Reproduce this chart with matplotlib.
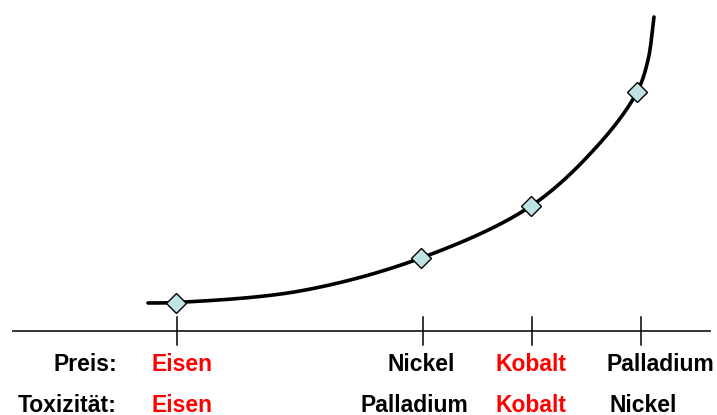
import numpy as np
import matplotlib
matplotlib.use("Agg")
import matplotlib.pyplot as plt

# ---- data ----
price_labels = ["Eisen", "Nickel", "Kobalt", "Palladium"]
tox_labels = ["Eisen", "Palladium", "Kobalt", "Nickel"]
highlight = ["Eisen", "Kobalt"]
tick_x = [177, 423, 532, 641]
marker_x = [176, 421, 531, 637]
marker_y = [28.5, 73, 125, 239]
curve_x = [148, 176, 300, 421, 531, 600, 637, 648, 654]
curve_y = [28, 28.5, 40, 73, 125, 188, 239, 271, 314]


def catmull_rom(xs, ys, n=40, alpha=0.5):
    """Smooth drawing path through the given points (centripetal Catmull-Rom)."""
    P = np.column_stack([xs, ys]).astype(float)
    P = np.vstack([2 * P[0] - P[1], P, 2 * P[-1] - P[-2]])
    out = []
    for i in range(1, len(P) - 2):
        p0, p1, p2, p3 = P[i - 1], P[i], P[i + 1], P[i + 2]
        t0 = 0.0
        t1 = t0 + np.linalg.norm(p1 - p0) ** alpha
        t2 = t1 + np.linalg.norm(p2 - p1) ** alpha
        t3 = t2 + np.linalg.norm(p3 - p2) ** alpha
        t = np.linspace(t1, t2, n)[:, None]
        A1 = (t1 - t) / (t1 - t0) * p0 + (t - t0) / (t1 - t0) * p1
        A2 = (t2 - t) / (t2 - t1) * p1 + (t - t1) / (t2 - t1) * p2
        A3 = (t3 - t) / (t3 - t2) * p2 + (t - t2) / (t3 - t2) * p3
        B1 = (t2 - t) / (t2 - t0) * A1 + (t - t0) / (t2 - t0) * A2
        B2 = (t3 - t) / (t3 - t1) * A2 + (t - t1) / (t3 - t1) * A3
        C = (t2 - t) / (t2 - t1) * B1 + (t - t1) / (t2 - t1) * B2
        out.append(C if i == 1 else C[1:])
    C = np.vstack(out)
    return C[:, 0], C[:, 1]


# ---- layout ----
W, H = 717, 415
axis_y = 331
fig = plt.figure(figsize=(W / 100, H / 100), dpi=100)
ax = fig.add_axes([0, 0, 1, 1])
ax.set_xlim(0, W)
ax.set_ylim(axis_y - H, axis_y)
ax.axis("off")

# baseline + ticks
ax.plot([12, 711], [0, 0], color="black", lw=1.1, solid_capstyle="butt")
for tx in tick_x:
    ax.plot([tx, tx], [14, -14], color="black", lw=1.1)

# curve
sx, sy = catmull_rom(curve_x, curve_y)
ax.plot(sx, sy, color="black", lw=2.6, solid_capstyle="round",
        solid_joinstyle="round", zorder=3)
ax.plot(marker_x, marker_y, linestyle="none", marker="D", markersize=10,
        markerfacecolor="#bfe3e3", markeredgecolor="black", markeredgewidth=1.0,
        zorder=4)

font = dict(family="Liberation Sans", fontweight="bold", fontsize=16.5)
row1_y = axis_y - 364
row2_y = axis_y - 405
ax.text(117, row1_y, "Preis:", ha="right", va="center", **font)
ax.text(117, row2_y, "Toxizität:", ha="right", va="center", **font)

row1_x = [182, 421, 531, 660]
row2_x = [182, 414, 531, 643]
for lab, x in zip(price_labels, row1_x):
    ax.text(x, row1_y, lab, ha="center", va="center",
            color="#ff0000" if lab in highlight else "black", **font)
for lab, x in zip(tox_labels, row2_x):
    ax.text(x, row2_y, lab, ha="center", va="center",
            color="#ff0000" if lab in highlight else "black", **font)

fig.savefig("out.png", dpi=100)
